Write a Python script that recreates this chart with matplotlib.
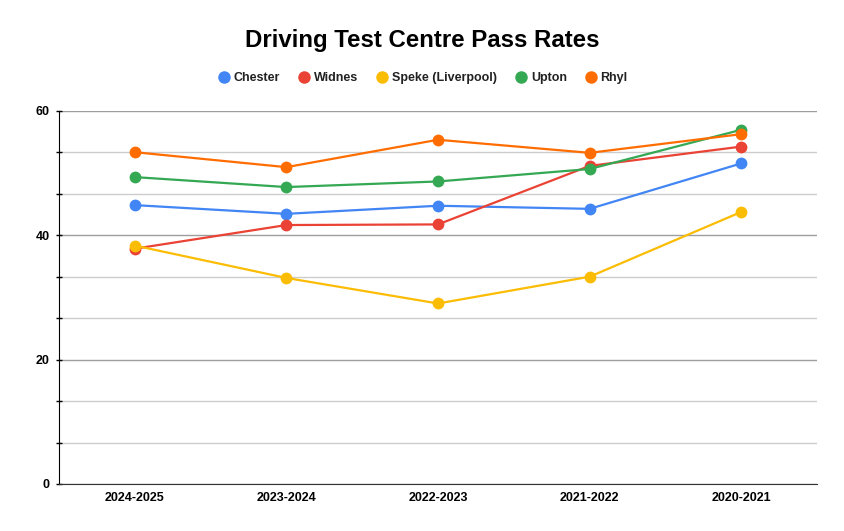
import matplotlib
matplotlib.use("Agg")
import matplotlib.pyplot as plt
from matplotlib.lines import Line2D
import numpy as np

plt.rcParams['font.family'] = ['Liberation Sans', 'DejaVu Sans']

categories = ["2024-2025", "2023-2024", "2022-2023", "2021-2022", "2020-2021"]
chester = [44.8, 43.4, 44.7, 44.2, 51.5]
widnes = [37.8, 41.6, 41.7, 51.1, 54.2]
speke = [38.3, 33.1, 29.0, 33.3, 43.7]
upton = [49.3, 47.7, 48.6, 50.6, 56.9]
rhyl = [53.3, 50.9, 55.3, 53.2, 56.2]

series_names = ["Chester", "Widnes", "Speke (Liverpool)", "Upton", "Rhyl"]
series_values = [chester, widnes, speke, upton, rhyl]
colors = ["#4285F4", "#EA4335", "#FBBC04", "#34A853", "#FF6D01"]

fig = plt.figure(figsize=(8.44, 5.31), dpi=100)
ax = fig.add_axes([59/844, 1-484/531, (817-59)/844, (484-110.5)/531])

x = np.arange(len(categories))
for name, vals, c in zip(series_names, series_values, colors):
    ax.plot(x, vals, color=c, lw=1.6, marker='o', ms=8.5, markeredgewidth=0, label=name, zorder=3)

ax.set_xlim(-0.5, len(categories)-0.5)
ax.set_ylim(0, 60)
ax.set_xticks(x)
ax.set_xticklabels(categories, fontsize=9, fontweight='bold')
ax.set_yticks([0, 20, 40, 60])
ax.set_yticklabels(["0", "20", "40", "60"], fontsize=9, fontweight='bold')
minor = [v for v in np.arange(0, 60.01, 20/3) if all(abs(v - m) > 0.1 for m in [0, 20, 40, 60])]
ax.set_yticks(minor, minor=True)
ax.grid(axis='y', which='major', color='#9e9e9e', lw=1)
ax.grid(axis='y', which='minor', color='#cccccc', lw=1)
ax.tick_params(axis='y', which='both', direction='inout', length=5, width=1, color='black', pad=4)
ax.tick_params(axis='x', length=0, pad=6)
for s in ['top', 'right']:
    ax.spines[s].set_visible(False)
ax.spines['left'].set_color('black')
ax.spines['bottom'].set_color('#333333')
ax.set_axisbelow(True)

fig.text(0.5, 1-41/531, "Driving Test Centre Pass Rates", ha='center', va='center',
         fontsize=17.3, fontweight='bold')

handles = [Line2D([], [], ls='none', marker='o', ms=9, color=c, markeredgewidth=0) for c in colors]
leg = fig.legend(handles, series_names, loc='center', bbox_to_anchor=(0.5, 1-78/531), ncol=5,
                 frameon=False, handletextpad=0.2, columnspacing=1.3, handlelength=1.2,
                 prop={'size': 9, 'weight': 'bold'})
for t in leg.get_texts():
    t.set_color('#222222')

fig.savefig("out.png", dpi=100)
